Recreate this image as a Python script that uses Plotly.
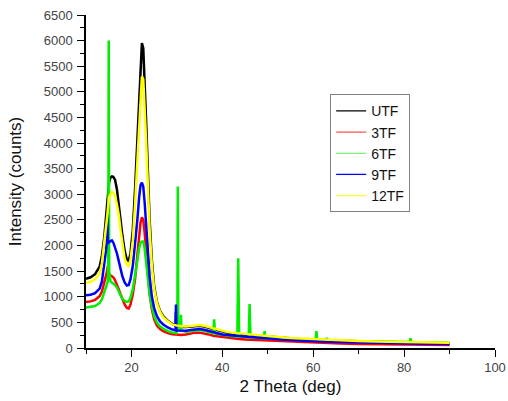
import plotly.graph_objects as go

# 2-theta sampling positions (deg)
two_theta = [10, 11, 12, 13, 13.5,
             14, 14.4, 14.6, 14.7, 14.8,
             14.9, 15.0, 15.1, 15.4, 15.7,
             16.0, 16.4, 16.8, 17.2, 17.6,
             18.0, 18.5, 19.0, 19.4, 19.8,
             20.3, 20.8, 21.3, 21.7, 22.0,
             22.3, 22.6, 22.9, 23.2, 23.6,
             24.0, 24.5, 25.0, 25.6, 26.3,
             27, 28, 29, 29.7, 29.8,
             29.9, 30.1, 30.2, 30.3, 30.8,
             30.9, 31, 32, 33, 34,
             35, 36, 37, 38, 38.2,
             38.4, 39, 40, 41, 42,
             43.3, 43.5, 43.7, 45, 45.8,
             46.0, 46.2, 47, 48, 49.1,
             49.3, 49.5, 51, 53, 55,
             57, 60.5, 60.7, 60.9, 62.8,
             63.0, 63.2, 66, 70, 74,
             78, 81.2, 81.4, 81.6, 84,
             87, 90]

utf = [1350, 1380, 1440, 1590, 1800,
       2150, 2550, 2750, 2850, 2950,
       3050, 3150, 3250, 3330, 3350,
       3340, 3280, 3100, 2850, 2500,
       2200, 1900, 1720, 1700, 1850,
       2300, 3100, 4100, 5000, 5600,
       5950, 5850, 5300, 4500, 3500,
       2500, 1700, 1200, 900, 720,
       620, 530, 470, 440, 700,
       440, 430, 430, 425, 420,
       415, 410, 410, 420, 430,
       435, 420, 395, 365, 360,
       355, 340, 315, 300, 285,
       275, 275, 272, 265, 260,
       258, 256, 250, 240, 232,
       230, 228, 215, 200, 188,
       178, 165, 165, 164, 155,
       154, 153, 143, 130, 120,
       113, 108, 108, 107, 103,
       98, 95]

tf3 = [900, 910, 940, 1010, 1100,
       1250, 1400, 1480, 1530, 1600,
       1480, 1450, 1430, 1420, 1400,
       1380, 1320, 1250, 1150, 1050,
       950, 850, 780, 770, 850,
       1050, 1350, 1800, 2200, 2450,
       2550, 2500, 2250, 1900, 1450,
       1050, 750, 560, 440, 370,
       330, 290, 270, 260, 260,
       258, 255, 255, 255, 255,
       255, 255, 265, 285, 300,
       300, 285, 265, 240, 238,
       235, 225, 205, 195, 185,
       175, 175, 174, 168, 165,
       163, 162, 158, 150, 145,
       144, 143, 135, 125, 118,
       110, 100, 100, 99, 94,
       93, 93, 88, 80, 75,
       70, 67, 67, 67, 65,
       62, 60]

tf6 = [790, 800, 820, 880, 950,
       1080, 1200, 1250, 1270, 1300,
       1600, 6000, 1500, 1300, 1280,
       1260, 1230, 1180, 1100, 1030,
       960, 920, 900, 910, 980,
       1150, 1400, 1700, 1950, 2060,
       2080, 2080, 1950, 1700, 1350,
       1050, 800, 620, 500, 420,
       380, 330, 300, 290, 290,
       290, 400, 3150, 500, 330,
       650, 340, 320, 330, 345,
       350, 335, 310, 290, 560,
       285, 275, 255, 245, 235,
       228, 1750, 226, 215, 212,
       860, 210, 205, 198, 190,
       330, 188, 180, 170, 162,
       155, 148, 330, 147, 140,
       200, 139, 133, 125, 120,
       118, 117, 190, 117, 113,
       108, 103]

tf9 = [1030, 1040, 1070, 1160, 1300,
       1600, 1900, 2100, 2620, 2100,
       2060, 2060, 2070, 2090, 2100,
       2060, 1960, 1850, 1700, 1550,
       1400, 1280, 1220, 1230, 1350,
       1600, 2000, 2500, 2950, 3180,
       3230, 3150, 2850, 2400, 1900,
       1400, 1000, 780, 620, 520,
       460, 400, 360, 345, 850,
       345, 340, 340, 340, 335,
       335, 335, 335, 350, 365,
       370, 355, 330, 300, 298,
       295, 285, 265, 255, 245,
       232, 232, 230, 222, 218,
       216, 215, 210, 200, 192,
       190, 188, 178, 165, 155,
       145, 132, 132, 131, 125,
       124, 124, 115, 105, 97,
       92, 88, 88, 88, 85,
       82, 80]

tf12 = [1270, 1290, 1340, 1450, 1650,
        2000, 2350, 2500, 2600, 2700,
        2800, 2880, 2950, 3000, 3050,
        3030, 2970, 2800, 2600, 2300,
        2000, 1750, 1620, 1600, 1720,
        2100, 2800, 3700, 4500, 5000,
        5300, 5250, 4800, 4100, 3200,
        2300, 1600, 1150, 880, 700,
        600, 520, 460, 440, 440,
        438, 435, 435, 432, 428,
        425, 423, 420, 430, 445,
        450, 435, 410, 380, 378,
        375, 355, 330, 315, 300,
        288, 288, 286, 278, 272,
        270, 268, 262, 252, 243,
        241, 240, 226, 210, 197,
        188, 175, 175, 174, 165,
        164, 163, 152, 138, 128,
        122, 117, 117, 116, 112,
        107, 104]

series_names = ["UTF", "3TF", "6TF", "9TF", "12TF"]
series_values = [utf, tf3, tf6, tf9, tf12]
series_colors = ["#000000", "#ff0000", "#00ee00", "#0000ff", "#ffff00"]
legend_colors = ["#000000", "#ff5555", "#55ee55", "#0000ff", "#ffff33"]

fig = go.Figure()
for name, vals, col in zip(series_names, series_values, series_colors):
    fig.add_trace(go.Scatter(x=two_theta, y=vals, mode="lines", name=name,
                             line=dict(color=col, width=2.5), showlegend=False,
                             hoverinfo="skip"))
for name, col in zip(series_names, legend_colors):
    fig.add_trace(go.Scatter(x=[None], y=[None], mode="lines", name=name,
                             line=dict(color=col, width=1.2), showlegend=True))

font_family = "Liberation Sans, Arial, sans-serif"
fig.update_layout(
    width=508, height=401,
    margin=dict(l=86, r=13, t=15, b=53, autoexpand=False),
    paper_bgcolor="white", plot_bgcolor="white",
    font=dict(family=font_family, color="#333333"),
    showlegend=True,
    legend=dict(x=0.597, y=0.762, xanchor="left", yanchor="top",
                bgcolor="white", bordercolor="#808080", borderwidth=1,
                font=dict(size=14, color="#111111"), tracegroupgap=0),
    xaxis=dict(range=[10, 100], tick0=0, dtick=20, ticks="outside", ticklen=7,
               tickwidth=1.2, tickcolor="black", automargin=False,
               ticklabeloverflow="allow",
               minor=dict(dtick=10, tick0=0, ticks="outside", ticklen=4, tickcolor="black"),
               showline=True, linecolor="black", linewidth=1.5, showgrid=False,
               zeroline=False, tickfont=dict(size=13, color="#444444"),
               title=dict(text="2 Theta (deg)", font=dict(size=17, color="#111111"), standoff=6)),
    yaxis=dict(range=[0, 6500], tick0=0, dtick=500, ticks="outside", ticklen=7,
               tickwidth=1.2, tickcolor="black", automargin=False, ticklabelstandoff=2,
               ticklabeloverflow="allow",
               minor=dict(dtick=250, tick0=0, ticks="outside", ticklen=4, tickcolor="black"),
               showline=True, linecolor="black", linewidth=1.5, showgrid=False,
               zeroline=False, tickfont=dict(size=13, color="#444444"),
               title=dict(text="Intensity (counts)", font=dict(size=17, color="#111111"), standoff=18)),
)

# remove the default page margin so the 508x401 figure fills the window exactly
fig.write_html("out.html",
               config={"displayModeBar": False},
               post_script="document.body.style.margin='0';document.body.style.overflow='hidden';")
